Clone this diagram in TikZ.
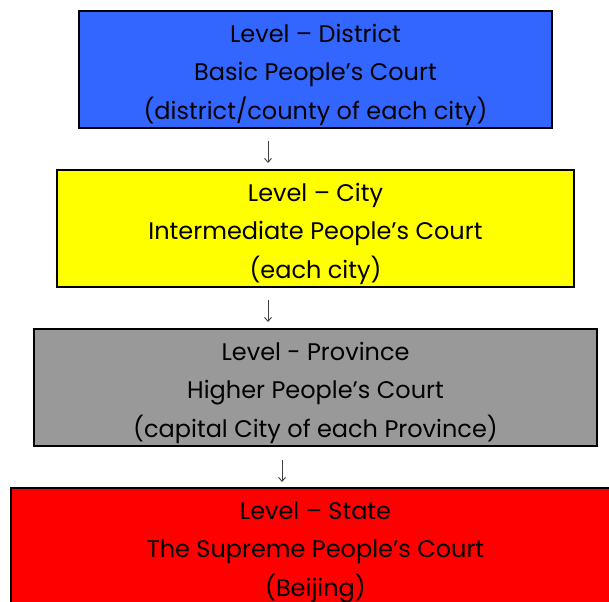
\documentclass[tikz,border=0pt]{standalone}
\usepackage{fontspec}
\setmainfont{Poppins}
\usetikzlibrary{arrows.meta}
\definecolor{cblue}{HTML}{3366FF}
\definecolor{cyellow}{HTML}{FFFF00}
\definecolor{cgray}{HTML}{999999}
\definecolor{cred}{HTML}{FF0000}
\newcommand{\topstrut}{\rule{0pt}{29pt}}
\begin{document}
\begin{tikzpicture}[x=1pt,y=-1pt,
  courtbox/.style={draw=black, line width=2pt, minimum height=117pt, inner sep=0pt,
    align=center, font=\fontsize{24}{38.5}\selectfont, text=black},
  flowarrow/.style={draw=black!75, line width=0.9pt, -{Straight Barb[length=4pt,width=7pt]}}]
\useasboundingbox (0,0) rectangle (609,601);
\clip (0,0) rectangle (609,601);
\node[courtbox, fill=cblue, minimum width=473pt] (district) at (315.5,69.5)
  {\topstrut Level – District\\Basic People’s Court\\(district/county of each city)};
\node[courtbox, fill=cyellow, minimum width=517pt] (city) at (315.5,228.5)
  {\topstrut Level – City\\Intermediate People’s Court\\(each city)};
\node[courtbox, fill=cgray, minimum width=563pt] (province) at (315.5,387.5)
  {\topstrut Level - Province\\Higher People’s Court\\(capital City of each Province)};
\node[courtbox, fill=cred, minimum width=609pt] (state) at (315.5,546.5)
  {\topstrut Level – State\\The Supreme People’s Court\\(Beijing)};
\coordinate (a1s) at (268,141);
\coordinate (a1e) at (268,163);
\coordinate (a2s) at (268,300);
\coordinate (a2e) at (268,322);
\coordinate (a3s) at (282,460);
\coordinate (a3e) at (282,482);
\draw[flowarrow] (a1s) -- (a1e);
\draw[flowarrow] (a2s) -- (a2e);
\draw[flowarrow] (a3s) -- (a3e);
\end{tikzpicture}
\end{document}
